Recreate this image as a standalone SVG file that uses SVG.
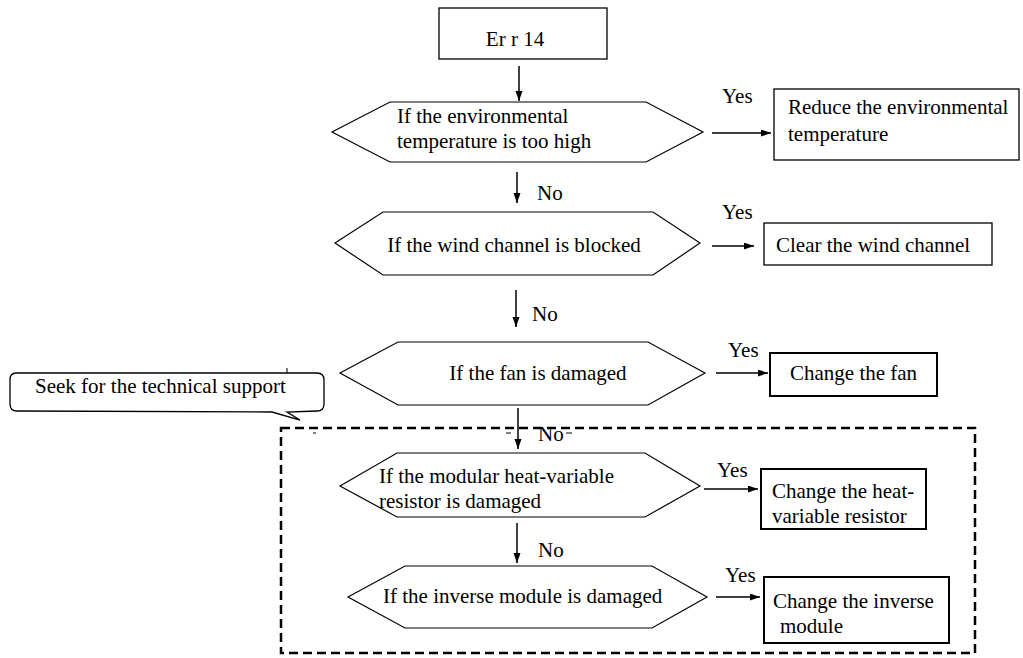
<svg xmlns="http://www.w3.org/2000/svg" width="1023" height="658" viewBox="0 0 1023 658">
<defs>
<marker id="ah" markerUnits="userSpaceOnUse" markerWidth="10" markerHeight="8" refX="10" refY="3.5" orient="auto">
<path d="M0,0 L10,3.5 L0,7 z" fill="#000"/>
</marker>
<style>
text{font-family:"Liberation Serif","Times New Roman",serif;font-size:21px;fill:#000}
.box{fill:#fff;stroke:#000;stroke-width:1.3}
.boxb{fill:#fff;stroke:#000;stroke-width:2}
.hex{fill:#fff;stroke:#000;stroke-width:1.2}
.conn line{stroke:#000;stroke-width:1.5;marker-end:url(#ah)}
.mid{text-anchor:middle}
</style>
</defs>
<rect width="1023" height="658" fill="#fff"/>

<!-- dashed group frame -->
<rect id="group-frame" x="281" y="428" width="694" height="225" fill="none" stroke="#000" stroke-width="2.5" stroke-dasharray="9,5"/>

<g id="start">
<rect class="box" x="439" y="8" width="168" height="51"/>
<text x="515" y="46" class="mid">Er r 14</text>
</g>

<g id="q-temp">
<polygon class="hex" points="332,132 390,102 646,102 703,132 646,162 390,162"/>
<text x="397" y="123">If the environmental</text>
<text x="397" y="148">temperature is too high</text>
</g>

<g id="a-temp">
<rect class="box" x="774" y="89" width="245" height="71"/>
<text x="788" y="114">Reduce the environmental</text>
<text x="788" y="141">temperature</text>
</g>

<g id="q-wind">
<polygon class="hex" points="335,243 383,212 653,212 700,243 653,275 383,275"/>
<text x="514" y="252" class="mid">If the wind channel is blocked</text>
</g>

<g id="a-wind">
<rect class="box" x="764" y="223" width="228" height="42"/>
<text x="776" y="252">Clear the wind channel</text>
</g>

<g id="q-fan">
<polygon class="hex" points="340,373 398,342 648,342 705,373 648,405 398,405"/>
<text x="538" y="380" class="mid">If the fan is damaged</text>
</g>

<g id="a-fan">
<rect class="boxb" x="770" y="353" width="167" height="43"/>
<text x="790" y="380">Change the fan</text>
</g>

<g id="support">
<path d="M16,373 C12,373 10,376 10,380 L10,404 C10,408 12,411 17,411 L272,412 L300,420 L287,412 L317,411 C322,411 324,408 324,404 L324,380 C324,376 322,373 317,373 Z" fill="#fff" stroke="#000" stroke-width="1.3"/>
<line x1="287" y1="368" x2="287" y2="373" stroke="#000" stroke-width="1"/>
<text x="35" y="393">Seek for the technical support</text>
</g>

<g id="q-ntc">
<polygon class="hex" points="340,486 397,453 645,453 700,486 645,517 397,517"/>
<text x="379" y="483">If the modular heat-variable</text>
<text x="379" y="508">resistor is damaged</text>
</g>

<g id="a-ntc">
<rect class="boxb" x="761" y="469" width="165" height="60"/>
<text x="772" y="498">Change the heat-</text>
<text x="772" y="523">variable resistor</text>
</g>

<g id="q-inv">
<polygon class="hex" points="348,597 405,566 652,566 707,597 652,628 405,628"/>
<text x="383" y="603">If the inverse module is damaged</text>
</g>

<g id="a-inv">
<rect class="boxb" x="764" y="577" width="185" height="66"/>
<text x="773" y="608">Change the inverse</text>
<text x="780" y="633">module</text>
</g>

<g id="connectors" class="conn">
<line x1="519" y1="66" x2="519" y2="101"/>
<line x1="517" y1="172" x2="517" y2="203"/>
<line x1="516" y1="290" x2="516" y2="327"/>
<line x1="518" y1="408" x2="518" y2="449"/>
<line x1="517" y1="523" x2="517" y2="563"/>
<line x1="712" y1="133" x2="771" y2="133"/>
<line x1="712" y1="246" x2="754" y2="246"/>
<line x1="716" y1="373" x2="768" y2="373"/>
<line x1="704" y1="489" x2="758" y2="489"/>
<line x1="716" y1="597" x2="760" y2="597"/>
</g>

<g id="labels">
<text x="537" y="200">No</text>
<text x="532" y="321">No</text>
<text x="538" y="441">No</text>
<text x="538" y="557">No</text>
<text x="722" y="103">Yes</text>
<text x="722" y="219">Yes</text>
<text x="728" y="357">Yes</text>
<text x="717" y="477">Yes</text>
<text x="725" y="582">Yes</text>
<line x1="506" y1="433" x2="511" y2="433" stroke="#000" stroke-width="1"/>
<line x1="566" y1="433" x2="572" y2="433" stroke="#000" stroke-width="1"/>
<line x1="313" y1="433" x2="316" y2="433" stroke="#000" stroke-width="1"/>
</g>
</svg>
